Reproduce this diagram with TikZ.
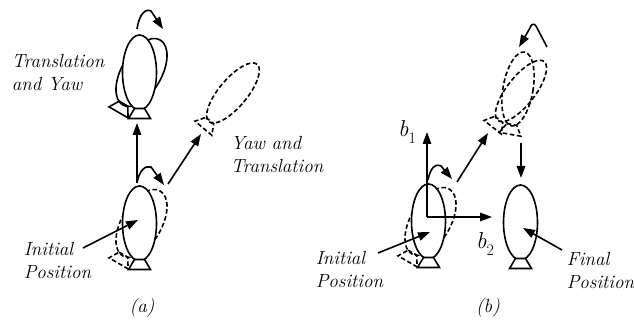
\documentclass[tikz,border=0pt]{standalone}
\usetikzlibrary{arrows.meta}
\newcommand{\axisname}[2]{#1\raisebox{-0.3em}{\fontsize{16}{16}\selectfont\upshape #2}}
\begin{document}
\begin{tikzpicture}[x=1pt, y=-1pt,
  line width=1.6pt,
  every node/.style={font=\fontsize{19}{23}\selectfont\itshape, inner sep=0pt},
  lbl/.style={align=left, anchor=base west},
  axislbl/.style={font=\fontsize{23}{26}\selectfont\itshape},
  ghostline/.style={dash pattern=on 4.5pt off 2.6pt},
  arr/.style={-{Triangle[length=12pt,width=8.5pt]}},
  body fill/.initial=none,
  body rx/.initial=17,
  % body of the vehicle: an ellipse standing on a small trapezoid foot
  body/.pic={
    \draw[fill=\pgfkeysvalueof{/tikz/body fill}] (0,0)
      ellipse [x radius=\pgfkeysvalueof{/tikz/body rx}pt, y radius=37.5pt];
    \draw[fill=\pgfkeysvalueof{/tikz/body fill}]
      (-5,36) -- (5,36) -- (11,46) -- (-11,46) -- cycle;
  },
  robot/.pic={\pic[body fill=white] {body};},
  % the same body after a yaw: seen turned, so it leans over
  yawed/.pic={\pic[shift={(2,0)}, rotate=-30, body rx=20] {body};},
]
\useasboundingbox (0,0) rectangle (634,323);

% ---------------- (a) ----------------
\coordinate (A1) at (139.5,72.5);
\coordinate (A0) at (139.5,223.5);
\coordinate (A2) at (233,93);

\pic at (A1) {yawed};
\pic at (A1) {robot};
\pic[ghostline] at (A0) {yawed};
\pic at (A0) {robot};
\pic[ghostline, rotate=-40, body rx=14] at (A2) {body};

\coordinate (a-up-s) at (137,183);
\coordinate (a-up-e) at (137,123);
\coordinate (a-dg-s) at (168,184);
\coordinate (a-dg-e) at (201,134);
\draw[arr] (a-up-s) -- (a-up-e);
\draw[arr] (a-dg-s) -- (a-dg-e);

% yaw curls
\draw[arr] (137,29) .. controls (139,15) and (145,8) .. (151,11) -- (163,29);
\draw[arr] (137,183) .. controls (139,171) and (145,165) .. (151,167) -- (164,185);

% multi-line labels are placed by the baseline of their last line
\node[lbl] (tyaw) at (11,91) {Translation\\and Yaw};
\node[lbl] (yawt) at (230,173) {Yaw and\\Translation};
\node[lbl] (inita) at (23,278) {Initial\\Position};
\coordinate (inita-s) at (83,248);
\coordinate (inita-e) at (138,220);
\draw[arr] (inita-s) -- (inita-e);
\node (capa) at (142,308) {(a)};

% ---------------- (b) ----------------
\coordinate (B0) at (428.5,221.5);
\coordinate (B2) at (518,89);
\coordinate (B2y) at (521,91);
\coordinate (B3) at (520.5,222.5);

\pic[ghostline] at (B0) {yawed};
\pic at (B0) {robot};
\pic[ghostline, rotate=-38, body rx=14] at (B2y) {body};
\pic[ghostline, rotate=-10, body rx=15] at (B2) {body};
\pic at (B3) {robot};

% body axes
\coordinate (b-o) at (427,217);
\coordinate (b-1) at (427,132);
\coordinate (b-2) at (492,217);
\draw[arr] (b-o) -- (b-1);
\draw[arr] (b-o) -- (b-2);
\node[axislbl] (b1) at (407,132) {\axisname{b}{1}};
\node[axislbl] (b2) at (485,244) {\axisname{b}{2}};

\coordinate (b-dg-s) at (457,182);
\coordinate (b-dg-e) at (488,133);
\draw[arr] (b-dg-s) -- (b-dg-e);
\coordinate (b-dn-s) at (521,143);
\coordinate (b-dn-e) at (521,178);
\draw[arr] (b-dn-s) -- (b-dn-e);

% yaw curls
\draw[arr] (428,180) .. controls (430,169) and (435,163) .. (441,166) -- (452,179);
\draw[arr] (547,47) -- (536,26) .. controls (534,23) and (531,24) .. (530,28) -- (519,47);

\node[lbl] (initb) at (315,287) {Initial\\Position};
\coordinate (initb-s) at (378,253);
\coordinate (initb-e) at (430,232);
\draw[arr] (initb-s) -- (initb-e);
\node[lbl] (final) at (566,288) {Final\\Position};
\coordinate (final-s) at (562,250);
\coordinate (final-e) at (523,228);
\draw[arr] (final-s) -- (final-e);
\node (capb) at (488,308) {(b)};
\end{tikzpicture}
\end{document}
